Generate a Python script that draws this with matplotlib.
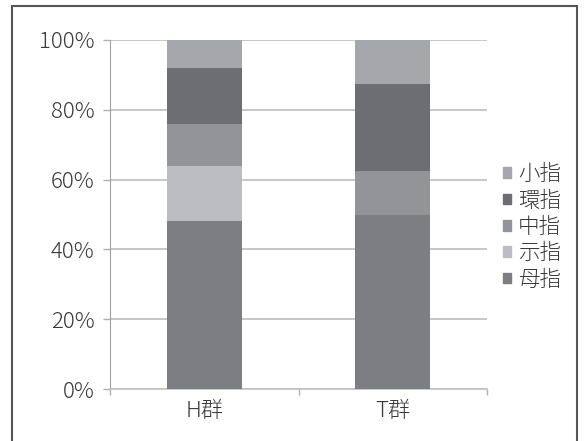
import matplotlib

matplotlib.use("Agg")
import matplotlib.pyplot as plt
from matplotlib.patches import Rectangle, Patch
import numpy as np

plt.rcParams["font.family"] = ["Noto Sans CJK JP", "DejaVu Sans"]
plt.rcParams["font.weight"] = "light"

groups = ["H群", "T群"]
fingers = ["母指", "示指", "中指", "環指", "小指"]
# percent share per finger, bottom to top
thumb = [48.0, 50.0]
index_f = [16.0, 0.0]
middle = [12.0, 12.5]
ring = [16.0, 25.0]
little = [8.0, 12.5]
colors = ["#7d7e82", "#bcbdc0", "#939497", "#6d6e71", "#a6a7aa"]

W, H = 587, 441
fig = plt.figure(figsize=(W / 100, H / 100), dpi=100)
ax = fig.add_axes([110 / W, 1 - 389 / H, 377 / W, 349 / H])

series = [thumb, index_f, middle, ring, little]
x = np.arange(len(groups))
bottom = np.zeros(len(groups))
for vals, col, name in zip(series, colors, fingers):
    ax.bar(x, vals, 0.4, bottom=bottom, color=col, label=name, linewidth=0, zorder=3)
    bottom += np.asarray(vals)

ax.set_xlim(-0.5, len(groups) - 0.5)
ax.set_ylim(0, 100)
ax.set_yticks(np.arange(0, 101, 20))
ax.set_yticklabels([f"{v}%" for v in range(0, 101, 20)])
ax.yaxis.grid(True, color="#bdbdbd", linewidth=1.2, zorder=0)
ax.set_xticks(x)
ax.set_xticklabels(groups)
ax.set_xticks([-0.5, 0.5, 1.5], minor=True)
ax.tick_params(axis="x", which="major", length=0, pad=8, labelsize=16, labelcolor="#3a3a3a")
ax.tick_params(axis="x", which="minor", length=4, color="#b0b0b0", width=1)
ax.tick_params(axis="y", length=5, color="#b0b0b0", width=1, pad=6, labelsize=16,
               labelcolor="#3a3a3a")
for side in ["top", "right"]:
    ax.spines[side].set_visible(False)
ax.spines["left"].set_color("#a0a0a0")
ax.spines["bottom"].set_color("#c0c0c0")
ax.spines["bottom"].set_linewidth(1.2)

handles = [Patch(color=c, label=n) for c, n in zip(colors, fingers)][::-1]
fig.legend(handles=handles, loc="center left", bbox_to_anchor=(503 / W, 1 - 227 / H),
           frameon=False, fontsize=15.5, handlelength=0.37, handleheight=0.37,
           handletextpad=0.33, labelspacing=0.2, labelcolor="#3a3a3a",
           borderaxespad=0, borderpad=0)

fig.patches.append(Rectangle((12 / W, -0.05), 565 / W, 1.05 - 6 / H,
                             transform=fig.transFigure, fill=False,
                             edgecolor="#555555", linewidth=1.5))

fig.savefig("out.png", dpi=100)
